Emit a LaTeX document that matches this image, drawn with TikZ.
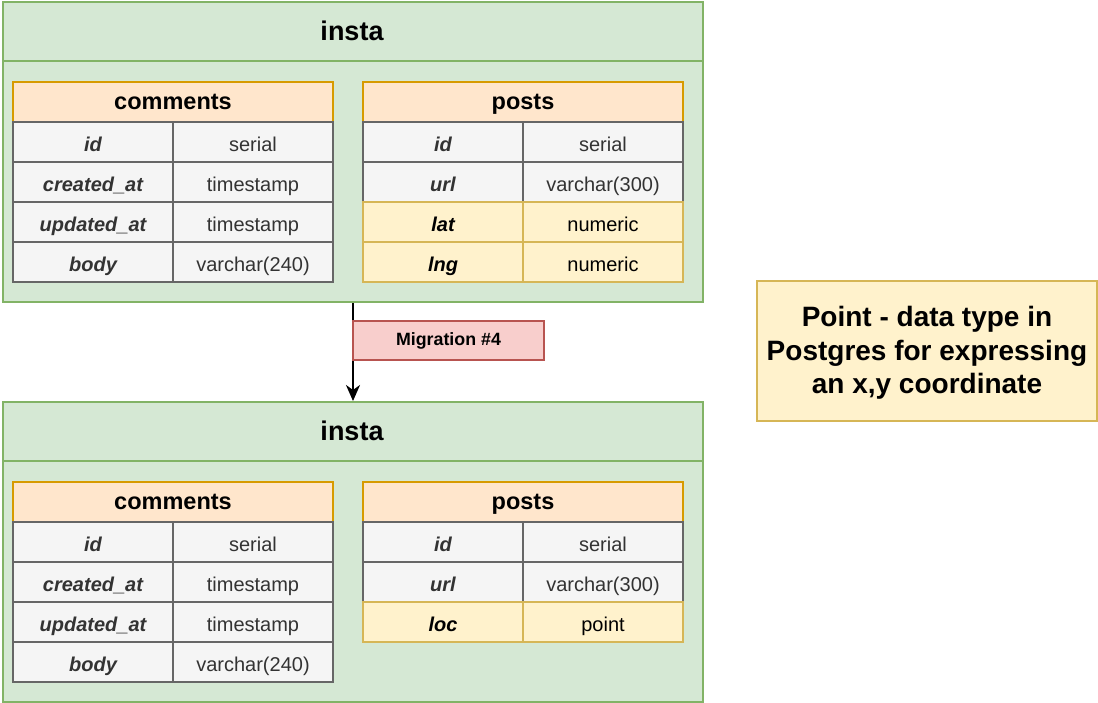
\documentclass[tikz,border=0pt]{standalone}
\usepackage{fontspec}
\setmainfont{Liberation Sans}
\usetikzlibrary{arrows.meta}
\definecolor{contfill}{HTML}{D5E8D4}
\definecolor{contline}{HTML}{82B366}
\definecolor{hdrfill}{HTML}{FFE6CC}
\definecolor{hdrline}{HTML}{D79B00}
\definecolor{cellfill}{HTML}{F5F5F5}
\definecolor{cellline}{HTML}{666666}
\definecolor{celltext}{HTML}{333333}
\definecolor{hifill}{HTML}{FFF2CC}
\definecolor{hiline}{HTML}{D6B656}
\definecolor{migfill}{HTML}{F8CECC}
\definecolor{migline}{HTML}{B85450}
\begin{document}
\begin{tikzpicture}[x=1pt,y=-1pt,
  container/.style={draw=contline, fill=contfill, line width=2pt, minimum width=700pt, minimum height=300pt, inner sep=0pt, anchor=north west},
  divline/.style={draw=contline, line width=2pt},
  ctitle/.style={font=\fontsize{27}{32}\selectfont\bfseries, text=black, text height=18pt, text depth=0pt},
  thead/.style={draw=hdrline, fill=hdrfill, line width=2pt, minimum width=320pt, minimum height=40pt, inner sep=0pt, anchor=north west, font=\fontsize{23.5}{28}\selectfont\bfseries, text=black, text height=15pt, text depth=0pt},
  keycell/.style={draw=cellline, fill=cellfill, line width=2pt, minimum width=160pt, minimum height=40pt, inner sep=0pt, anchor=north west, font=\fontsize{20}{24}\selectfont\bfseries\itshape, text=celltext, text height=18.5pt, text depth=0pt},
  typecell/.style={keycell, font=\fontsize{20}{24}\selectfont},
  hikey/.style={keycell, draw=hiline, fill=hifill, text=black},
  hitype/.style={typecell, draw=hiline, fill=hifill, text=black},
  migbox/.style={draw=migline, fill=migfill, line width=2pt, minimum width=191pt, minimum height=39pt, inner sep=0pt, anchor=west, font=\fontsize{17.8}{21}\selectfont\bfseries},
  notebox/.style={draw=hiline, fill=hifill, line width=2pt, minimum width=340pt, minimum height=140pt, inner sep=0pt},
  notetext/.style={align=center, inner sep=0pt, font=\fontsize{28}{33.6}\selectfont\bfseries},
  arrowline/.style={draw=black, line width=2pt, -{Stealth[length=16pt,width=14pt,inset=5pt]}}
]
\useasboundingbox (0,0) rectangle (1098,702);
\fill[white] (0,0) rectangle (1098,702);

% ---------- top container ----------
\node[container] (topc) at (2,1) {};
\draw[divline] (2,61) -- (702,61);
\node[ctitle] (toptitle) at (352,31) {insta};

\node[thead] (tch) at (12,81) {comments};
\node[keycell] (tc1k) at (12,121) {id};
\node[typecell] (tc1t) at (172,121) {serial};
\node[keycell] (tc2k) at (12,161) {created\_at};
\node[typecell] (tc2t) at (172,161) {timestamp};
\node[keycell] (tc3k) at (12,201) {updated\_at};
\node[typecell] (tc3t) at (172,201) {timestamp};
\node[keycell] (tc4k) at (12,241) {body};
\node[typecell] (tc4t) at (172,241) {varchar(240)};

\node[thead] (tph) at (362,81) {posts};
\node[keycell] (tp1k) at (362,121) {id};
\node[typecell] (tp1t) at (522,121) {serial};
\node[keycell] (tp2k) at (362,161) {url};
\node[typecell] (tp2t) at (522,161) {varchar(300)};
\node[hikey] (tp3k) at (362,201) {lat};
\node[hitype] (tp3t) at (522,201) {numeric};
\node[hikey] (tp4k) at (362,241) {lng};
\node[hitype] (tp4t) at (522,241) {numeric};

% ---------- bottom container ----------
\node[container] (botc) at (2,401) {};
\draw[divline] (2,461) -- (702,461);
\node[ctitle] (bottitle) at (352,431) {insta};

\node[thead] (bch) at (12,481) {comments};
\node[keycell] (bc1k) at (12,521) {id};
\node[typecell] (bc1t) at (172,521) {serial};
\node[keycell] (bc2k) at (12,561) {created\_at};
\node[typecell] (bc2t) at (172,561) {timestamp};
\node[keycell] (bc3k) at (12,601) {updated\_at};
\node[typecell] (bc3t) at (172,601) {timestamp};
\node[keycell] (bc4k) at (12,641) {body};
\node[typecell] (bc4t) at (172,641) {varchar(240)};

\node[thead] (bph) at (362,481) {posts};
\node[keycell] (bp1k) at (362,521) {id};
\node[typecell] (bp1t) at (522,521) {serial};
\node[keycell] (bp2k) at (362,561) {url};
\node[typecell] (bp2t) at (522,561) {varchar(300)};
\node[hikey] (bp3k) at (362,601) {loc};
\node[hitype] (bp3t) at (522,601) {point};

% ---------- migration arrow ----------
\draw[arrowline] (topc.south) -- (botc.north);
\node[migbox] (mig) at (352,340.5) {Migration \#4};

% ---------- note ----------
\node[notebox] (note) at (927,351) {};
\node[notetext] (notetxt) at (927,353) {Point - data type in\\Postgres for expressing\\an x,y coordinate};
\end{tikzpicture}
\end{document}
